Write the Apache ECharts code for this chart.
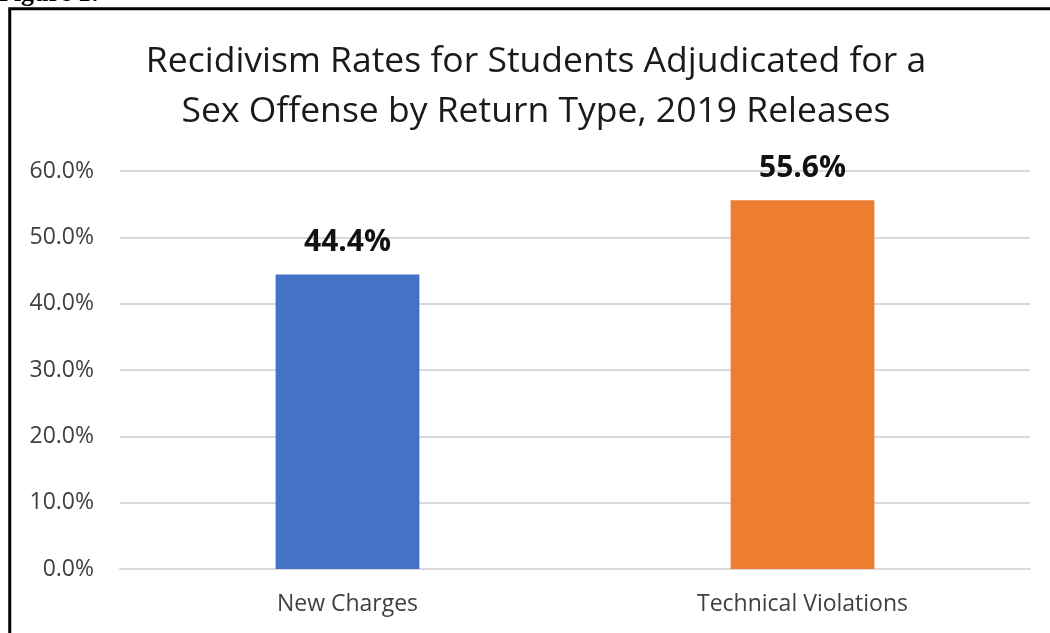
<!DOCTYPE html>
<html>
<head>
<meta charset="utf-8">
<script src="https://cdn.jsdelivr.net/npm/echarts@6/dist/echarts.min.js"></script>
<style>
  html, body { margin: 0; padding: 0; background: #fff; }
  #chart { width: 1050px; height: 633px; }
</style>
</head>
<body>
<div id="chart"></div>
<script>
// Return types and their recidivism rates (%)
const categories = ['New Charges', 'Technical Violations'];
const rates = [44.4, 55.6];
const yTicks = [0, 10, 20, 30, 40, 50, 60];

const barColors = ['#4472C4', '#ED7D31'];
const uiFont = '"Open Sans", "Noto Sans", sans-serif';

const chart = echarts.init(document.getElementById('chart'), null, { renderer: 'canvas' });

chart.setOption({
  backgroundColor: '#ffffff',
  animation: false,
  graphic: [
    {
      type: 'text',
      left: -2,
      top: -19,
      style: {
        text: 'Figure 1:',
        font: 'bold 26px "Liberation Serif", "Times New Roman", serif',
        fill: '#000'
      }
    },
    {
      type: 'rect',
      shape: { x: 9.75, y: 8.75, width: 1100, height: 700 },
      style: { fill: 'none', stroke: '#000', lineWidth: 3 },
      silent: true
    },
    {
      type: 'text',
      x: 536,
      y: 37,
      style: {
        text: 'Recidivism Rates for Students Adjudicated for a\nSex Offense by Return Type, 2019 Releases',
        font: '35.5px ' + uiFont,
        fill: '#1a1a1a',
        align: 'center',
        verticalAlign: 'top',
        lineHeight: 50
      }
    }
  ],
  grid: { left: 120, right: 20, top: 171, bottom: 64 },
  xAxis: {
    type: 'category',
    data: categories,
    axisLine: { lineStyle: { color: '#d9d9d9', width: 2 } },
    axisTick: { show: false },
    axisLabel: {
      color: '#404040',
      fontFamily: uiFont,
      fontSize: 23,
      margin: 24
    }
  },
  yAxis: {
    type: 'value',
    min: yTicks[0],
    max: yTicks[yTicks.length - 1],
    interval: yTicks[1] - yTicks[0],
    axisLine: { show: false },
    axisTick: { show: false },
    splitLine: { lineStyle: { color: '#d9d9d9', width: 2 } },
    axisLabel: {
      color: '#404040',
      fontFamily: uiFont,
      fontSize: 23,
      margin: 26,
      formatter: v => v.toFixed(1) + '%'
    }
  },
  series: [
    {
      type: 'bar',
      data: rates.map((v, i) => ({ value: v, itemStyle: { color: barColors[i] } })),
      barWidth: '31.6%',
      label: {
        show: true,
        position: 'top',
        distance: 17,
        color: '#111',
        fontFamily: uiFont,
        fontWeight: 'bold',
        fontSize: 30,
        lineHeight: 30,
        formatter: p => p.value.toFixed(1) + '%'
      }
    }
  ]
});
</script>
</body>
</html>
